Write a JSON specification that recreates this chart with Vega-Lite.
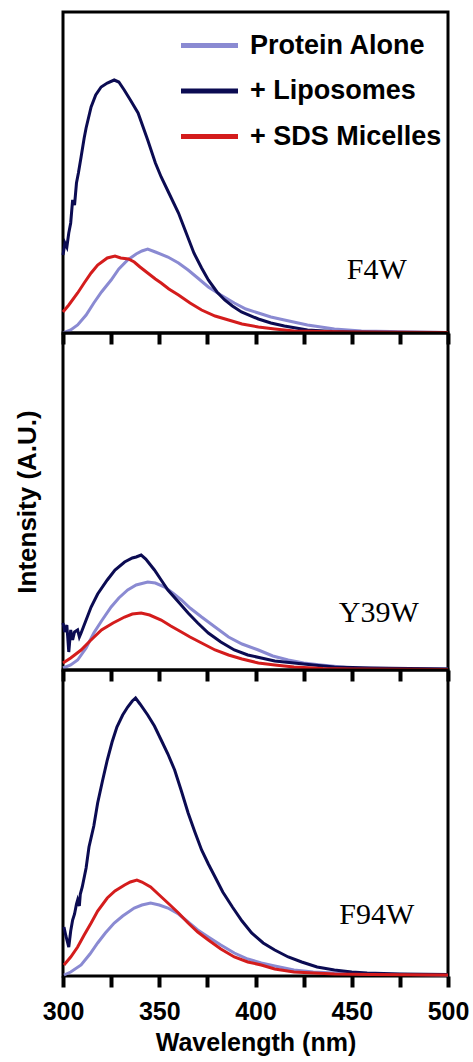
{
 "$schema": "https://vega.github.io/schema/vega-lite/v6.json",
 "padding": {"left": 12, "top": 10, "right": 5, "bottom": 0},
 "background": "white",
 "bounds": "flush",
 "spacing": 0,
 "config": {
  "view": {"stroke": "black", "strokeWidth": 3},
  "font": "Liberation Sans",
  "axis": {"grid": false}
 },
 "resolve": {"scale": {"x": "independent", "y": "independent"}, "axis": {"x": "independent", "y": "independent"}, "legend": {"color": "independent"}},
 "datasets": {
  "spectra": [
   {"panel":"F4W","sample":"Protein Alone","nm":300,"I":0},{"panel":"F4W","sample":"Protein Alone","nm":304,"I":3},{"panel":"F4W","sample":"Protein Alone","nm":307.6,"I":8},{"panel":"F4W","sample":"Protein Alone","nm":312,"I":18},{"panel":"F4W","sample":"Protein Alone","nm":316,"I":30},{"panel":"F4W","sample":"Protein Alone","nm":320,"I":41},{"panel":"F4W","sample":"Protein Alone","nm":325,"I":53},{"panel":"F4W","sample":"Protein Alone","nm":329,"I":64},{"panel":"F4W","sample":"Protein Alone","nm":333.6,"I":73},{"panel":"F4W","sample":"Protein Alone","nm":338,"I":79},{"panel":"F4W","sample":"Protein Alone","nm":341,"I":82},{"panel":"F4W","sample":"Protein Alone","nm":344,"I":84},{"panel":"F4W","sample":"Protein Alone","nm":348,"I":81},{"panel":"F4W","sample":"Protein Alone","nm":354.5,"I":76},{"panel":"F4W","sample":"Protein Alone","nm":360,"I":70},{"panel":"F4W","sample":"Protein Alone","nm":365,"I":63},{"panel":"F4W","sample":"Protein Alone","nm":370,"I":55},{"panel":"F4W","sample":"Protein Alone","nm":375.5,"I":46},{"panel":"F4W","sample":"Protein Alone","nm":382,"I":38},{"panel":"F4W","sample":"Protein Alone","nm":389,"I":30},{"panel":"F4W","sample":"Protein Alone","nm":395,"I":24},{"panel":"F4W","sample":"Protein Alone","nm":401.5,"I":20},{"panel":"F4W","sample":"Protein Alone","nm":408,"I":16},{"panel":"F4W","sample":"Protein Alone","nm":415,"I":13},{"panel":"F4W","sample":"Protein Alone","nm":427,"I":8},{"panel":"F4W","sample":"Protein Alone","nm":441,"I":4},{"panel":"F4W","sample":"Protein Alone","nm":455,"I":2},{"panel":"F4W","sample":"Protein Alone","nm":470,"I":1.5},{"panel":"F4W","sample":"Protein Alone","nm":500,"I":0.5},
   {"panel":"F4W","sample":"+ Liposomes","nm":300,"I":78},{"panel":"F4W","sample":"+ Liposomes","nm":301,"I":90},{"panel":"F4W","sample":"+ Liposomes","nm":302,"I":86},{"panel":"F4W","sample":"+ Liposomes","nm":303,"I":100},{"panel":"F4W","sample":"+ Liposomes","nm":304,"I":110},{"panel":"F4W","sample":"+ Liposomes","nm":305,"I":133},{"panel":"F4W","sample":"+ Liposomes","nm":306,"I":128},{"panel":"F4W","sample":"+ Liposomes","nm":307,"I":150},{"panel":"F4W","sample":"+ Liposomes","nm":308,"I":160},{"panel":"F4W","sample":"+ Liposomes","nm":309.4,"I":176},{"panel":"F4W","sample":"+ Liposomes","nm":311,"I":195},{"panel":"F4W","sample":"+ Liposomes","nm":312,"I":205},{"panel":"F4W","sample":"+ Liposomes","nm":314.6,"I":226},{"panel":"F4W","sample":"+ Liposomes","nm":317,"I":238},{"panel":"F4W","sample":"+ Liposomes","nm":319.8,"I":246},{"panel":"F4W","sample":"+ Liposomes","nm":323,"I":250},{"panel":"F4W","sample":"+ Liposomes","nm":326.6,"I":253},{"panel":"F4W","sample":"+ Liposomes","nm":329,"I":251},{"panel":"F4W","sample":"+ Liposomes","nm":331.8,"I":243},{"panel":"F4W","sample":"+ Liposomes","nm":335,"I":233},{"panel":"F4W","sample":"+ Liposomes","nm":339,"I":220},{"panel":"F4W","sample":"+ Liposomes","nm":344,"I":193},{"panel":"F4W","sample":"+ Liposomes","nm":348,"I":170},{"panel":"F4W","sample":"+ Liposomes","nm":351,"I":156},{"panel":"F4W","sample":"+ Liposomes","nm":355,"I":140},{"panel":"F4W","sample":"+ Liposomes","nm":360,"I":120},{"panel":"F4W","sample":"+ Liposomes","nm":364,"I":100},{"panel":"F4W","sample":"+ Liposomes","nm":368,"I":80},{"panel":"F4W","sample":"+ Liposomes","nm":372,"I":65},{"panel":"F4W","sample":"+ Liposomes","nm":375.5,"I":53},{"panel":"F4W","sample":"+ Liposomes","nm":380,"I":41},{"panel":"F4W","sample":"+ Liposomes","nm":384,"I":33},{"panel":"F4W","sample":"+ Liposomes","nm":388,"I":27},{"panel":"F4W","sample":"+ Liposomes","nm":392.7,"I":21},{"panel":"F4W","sample":"+ Liposomes","nm":401.5,"I":14},{"panel":"F4W","sample":"+ Liposomes","nm":408,"I":10},{"panel":"F4W","sample":"+ Liposomes","nm":415,"I":7},{"panel":"F4W","sample":"+ Liposomes","nm":427,"I":3},{"panel":"F4W","sample":"+ Liposomes","nm":440,"I":1.5},{"panel":"F4W","sample":"+ Liposomes","nm":450,"I":1},{"panel":"F4W","sample":"+ Liposomes","nm":475,"I":0.5},{"panel":"F4W","sample":"+ Liposomes","nm":500,"I":0.5},
   {"panel":"F4W","sample":"+ SDS Micelles","nm":300,"I":21},{"panel":"F4W","sample":"+ SDS Micelles","nm":303,"I":28},{"panel":"F4W","sample":"+ SDS Micelles","nm":307.6,"I":40},{"panel":"F4W","sample":"+ SDS Micelles","nm":311,"I":50},{"panel":"F4W","sample":"+ SDS Micelles","nm":314.6,"I":60},{"panel":"F4W","sample":"+ SDS Micelles","nm":318,"I":68},{"panel":"F4W","sample":"+ SDS Micelles","nm":323,"I":75},{"panel":"F4W","sample":"+ SDS Micelles","nm":327,"I":77},{"panel":"F4W","sample":"+ SDS Micelles","nm":330,"I":75},{"panel":"F4W","sample":"+ SDS Micelles","nm":334,"I":74},{"panel":"F4W","sample":"+ SDS Micelles","nm":337,"I":71},{"panel":"F4W","sample":"+ SDS Micelles","nm":340,"I":66},{"panel":"F4W","sample":"+ SDS Micelles","nm":344,"I":60},{"panel":"F4W","sample":"+ SDS Micelles","nm":348,"I":54},{"panel":"F4W","sample":"+ SDS Micelles","nm":351,"I":50},{"panel":"F4W","sample":"+ SDS Micelles","nm":355,"I":44},{"panel":"F4W","sample":"+ SDS Micelles","nm":360,"I":38},{"panel":"F4W","sample":"+ SDS Micelles","nm":366,"I":30},{"panel":"F4W","sample":"+ SDS Micelles","nm":372,"I":23},{"panel":"F4W","sample":"+ SDS Micelles","nm":379,"I":17},{"panel":"F4W","sample":"+ SDS Micelles","nm":386,"I":13},{"panel":"F4W","sample":"+ SDS Micelles","nm":393,"I":9},{"panel":"F4W","sample":"+ SDS Micelles","nm":401.5,"I":6},{"panel":"F4W","sample":"+ SDS Micelles","nm":410,"I":4},{"panel":"F4W","sample":"+ SDS Micelles","nm":420,"I":2},{"panel":"F4W","sample":"+ SDS Micelles","nm":435,"I":1.5},{"panel":"F4W","sample":"+ SDS Micelles","nm":450,"I":1},{"panel":"F4W","sample":"+ SDS Micelles","nm":500,"I":0.5},
   {"panel":"Y39W","sample":"Protein Alone","nm":300,"I":2},{"panel":"Y39W","sample":"Protein Alone","nm":304,"I":5},{"panel":"Y39W","sample":"Protein Alone","nm":307.6,"I":10},{"panel":"Y39W","sample":"Protein Alone","nm":312,"I":22},{"panel":"Y39W","sample":"Protein Alone","nm":316,"I":37},{"panel":"Y39W","sample":"Protein Alone","nm":320,"I":49},{"panel":"Y39W","sample":"Protein Alone","nm":325,"I":63},{"panel":"Y39W","sample":"Protein Alone","nm":329,"I":72},{"panel":"Y39W","sample":"Protein Alone","nm":333.6,"I":80},{"panel":"Y39W","sample":"Protein Alone","nm":338,"I":85},{"panel":"Y39W","sample":"Protein Alone","nm":344,"I":88},{"panel":"Y39W","sample":"Protein Alone","nm":348,"I":87},{"panel":"Y39W","sample":"Protein Alone","nm":352.8,"I":83},{"panel":"Y39W","sample":"Protein Alone","nm":357,"I":77},{"panel":"Y39W","sample":"Protein Alone","nm":361.5,"I":70},{"panel":"Y39W","sample":"Protein Alone","nm":366,"I":62},{"panel":"Y39W","sample":"Protein Alone","nm":372,"I":53},{"panel":"Y39W","sample":"Protein Alone","nm":379,"I":43},{"panel":"Y39W","sample":"Protein Alone","nm":386,"I":33},{"panel":"Y39W","sample":"Protein Alone","nm":393,"I":26},{"panel":"Y39W","sample":"Protein Alone","nm":401.5,"I":20},{"panel":"Y39W","sample":"Protein Alone","nm":409,"I":14},{"panel":"Y39W","sample":"Protein Alone","nm":417,"I":10},{"panel":"Y39W","sample":"Protein Alone","nm":425,"I":7},{"panel":"Y39W","sample":"Protein Alone","nm":434,"I":5},{"panel":"Y39W","sample":"Protein Alone","nm":450,"I":2},{"panel":"Y39W","sample":"Protein Alone","nm":470,"I":1.5},{"panel":"Y39W","sample":"Protein Alone","nm":500,"I":1},
   {"panel":"Y39W","sample":"+ Liposomes","nm":300,"I":47},{"panel":"Y39W","sample":"+ Liposomes","nm":301,"I":38},{"panel":"Y39W","sample":"+ Liposomes","nm":302,"I":45},{"panel":"Y39W","sample":"+ Liposomes","nm":303,"I":18},{"panel":"Y39W","sample":"+ Liposomes","nm":304,"I":40},{"panel":"Y39W","sample":"+ Liposomes","nm":305,"I":30},{"panel":"Y39W","sample":"+ Liposomes","nm":306,"I":38},{"panel":"Y39W","sample":"+ Liposomes","nm":307.6,"I":40},{"panel":"Y39W","sample":"+ Liposomes","nm":308.5,"I":33},{"panel":"Y39W","sample":"+ Liposomes","nm":309.4,"I":37},{"panel":"Y39W","sample":"+ Liposomes","nm":312,"I":50},{"panel":"Y39W","sample":"+ Liposomes","nm":314.6,"I":63},{"panel":"Y39W","sample":"+ Liposomes","nm":318,"I":76},{"panel":"Y39W","sample":"+ Liposomes","nm":323,"I":90},{"panel":"Y39W","sample":"+ Liposomes","nm":327,"I":100},{"panel":"Y39W","sample":"+ Liposomes","nm":332,"I":108},{"panel":"Y39W","sample":"+ Liposomes","nm":336,"I":112},{"panel":"Y39W","sample":"+ Liposomes","nm":338,"I":113},{"panel":"Y39W","sample":"+ Liposomes","nm":340.6,"I":115},{"panel":"Y39W","sample":"+ Liposomes","nm":343,"I":111},{"panel":"Y39W","sample":"+ Liposomes","nm":347.5,"I":100},{"panel":"Y39W","sample":"+ Liposomes","nm":351,"I":90},{"panel":"Y39W","sample":"+ Liposomes","nm":354.5,"I":80},{"panel":"Y39W","sample":"+ Liposomes","nm":360,"I":68},{"panel":"Y39W","sample":"+ Liposomes","nm":365,"I":57},{"panel":"Y39W","sample":"+ Liposomes","nm":370,"I":47},{"panel":"Y39W","sample":"+ Liposomes","nm":375.5,"I":37},{"panel":"Y39W","sample":"+ Liposomes","nm":382,"I":28},{"panel":"Y39W","sample":"+ Liposomes","nm":389,"I":20},{"panel":"Y39W","sample":"+ Liposomes","nm":396,"I":15},{"panel":"Y39W","sample":"+ Liposomes","nm":403,"I":12},{"panel":"Y39W","sample":"+ Liposomes","nm":410,"I":9},{"panel":"Y39W","sample":"+ Liposomes","nm":420,"I":7},{"panel":"Y39W","sample":"+ Liposomes","nm":430,"I":5},{"panel":"Y39W","sample":"+ Liposomes","nm":441,"I":3},{"panel":"Y39W","sample":"+ Liposomes","nm":460,"I":2},{"panel":"Y39W","sample":"+ Liposomes","nm":500,"I":1},
   {"panel":"Y39W","sample":"+ SDS Micelles","nm":300,"I":7},{"panel":"Y39W","sample":"+ SDS Micelles","nm":304,"I":12},{"panel":"Y39W","sample":"+ SDS Micelles","nm":309.4,"I":20},{"panel":"Y39W","sample":"+ SDS Micelles","nm":314,"I":29},{"panel":"Y39W","sample":"+ SDS Micelles","nm":320,"I":40},{"panel":"Y39W","sample":"+ SDS Micelles","nm":326,"I":47},{"panel":"Y39W","sample":"+ SDS Micelles","nm":332,"I":53},{"panel":"Y39W","sample":"+ SDS Micelles","nm":336,"I":56},{"panel":"Y39W","sample":"+ SDS Micelles","nm":340.6,"I":57},{"panel":"Y39W","sample":"+ SDS Micelles","nm":345,"I":55},{"panel":"Y39W","sample":"+ SDS Micelles","nm":351,"I":50},{"panel":"Y39W","sample":"+ SDS Micelles","nm":356,"I":44},{"panel":"Y39W","sample":"+ SDS Micelles","nm":361.5,"I":38},{"panel":"Y39W","sample":"+ SDS Micelles","nm":366,"I":33},{"panel":"Y39W","sample":"+ SDS Micelles","nm":372,"I":27},{"panel":"Y39W","sample":"+ SDS Micelles","nm":379,"I":20},{"panel":"Y39W","sample":"+ SDS Micelles","nm":386,"I":15},{"panel":"Y39W","sample":"+ SDS Micelles","nm":393,"I":11},{"panel":"Y39W","sample":"+ SDS Micelles","nm":401.5,"I":7},{"panel":"Y39W","sample":"+ SDS Micelles","nm":410,"I":5},{"panel":"Y39W","sample":"+ SDS Micelles","nm":420,"I":3},{"panel":"Y39W","sample":"+ SDS Micelles","nm":435,"I":1.5},{"panel":"Y39W","sample":"+ SDS Micelles","nm":450,"I":1},{"panel":"Y39W","sample":"+ SDS Micelles","nm":500,"I":0.5},
   {"panel":"F94W","sample":"Protein Alone","nm":300.5,"I":1},{"panel":"F94W","sample":"Protein Alone","nm":304,"I":4},{"panel":"F94W","sample":"Protein Alone","nm":309.4,"I":11},{"panel":"F94W","sample":"Protein Alone","nm":314,"I":22},{"panel":"F94W","sample":"Protein Alone","nm":318,"I":33},{"panel":"F94W","sample":"Protein Alone","nm":322,"I":43},{"panel":"F94W","sample":"Protein Alone","nm":326.6,"I":53},{"panel":"F94W","sample":"Protein Alone","nm":331,"I":60},{"panel":"F94W","sample":"Protein Alone","nm":337,"I":68},{"panel":"F94W","sample":"Protein Alone","nm":341,"I":71},{"panel":"F94W","sample":"Protein Alone","nm":345.5,"I":73},{"panel":"F94W","sample":"Protein Alone","nm":350,"I":71},{"panel":"F94W","sample":"Protein Alone","nm":354.5,"I":68},{"panel":"F94W","sample":"Protein Alone","nm":360,"I":62},{"panel":"F94W","sample":"Protein Alone","nm":365,"I":54},{"panel":"F94W","sample":"Protein Alone","nm":370,"I":46},{"panel":"F94W","sample":"Protein Alone","nm":375.5,"I":39},{"panel":"F94W","sample":"Protein Alone","nm":382,"I":31},{"panel":"F94W","sample":"Protein Alone","nm":389,"I":23},{"panel":"F94W","sample":"Protein Alone","nm":396,"I":17},{"panel":"F94W","sample":"Protein Alone","nm":403,"I":13},{"panel":"F94W","sample":"Protein Alone","nm":410,"I":10},{"panel":"F94W","sample":"Protein Alone","nm":420,"I":6},{"panel":"F94W","sample":"Protein Alone","nm":430,"I":4},{"panel":"F94W","sample":"Protein Alone","nm":441,"I":3},{"panel":"F94W","sample":"Protein Alone","nm":460,"I":2},{"panel":"F94W","sample":"Protein Alone","nm":500,"I":1},
   {"panel":"F94W","sample":"+ Liposomes","nm":300.5,"I":49},{"panel":"F94W","sample":"+ Liposomes","nm":301.5,"I":40},{"panel":"F94W","sample":"+ Liposomes","nm":303,"I":29},{"panel":"F94W","sample":"+ Liposomes","nm":304,"I":45},{"panel":"F94W","sample":"+ Liposomes","nm":305,"I":56},{"panel":"F94W","sample":"+ Liposomes","nm":306,"I":62},{"panel":"F94W","sample":"+ Liposomes","nm":307,"I":72},{"panel":"F94W","sample":"+ Liposomes","nm":307.6,"I":76},{"panel":"F94W","sample":"+ Liposomes","nm":308.5,"I":70},{"panel":"F94W","sample":"+ Liposomes","nm":309,"I":82},{"panel":"F94W","sample":"+ Liposomes","nm":310,"I":89},{"panel":"F94W","sample":"+ Liposomes","nm":312,"I":108},{"panel":"F94W","sample":"+ Liposomes","nm":313.5,"I":129},{"panel":"F94W","sample":"+ Liposomes","nm":316,"I":150},{"panel":"F94W","sample":"+ Liposomes","nm":318,"I":173},{"panel":"F94W","sample":"+ Liposomes","nm":320.5,"I":195},{"panel":"F94W","sample":"+ Liposomes","nm":323,"I":216},{"panel":"F94W","sample":"+ Liposomes","nm":325.5,"I":234},{"panel":"F94W","sample":"+ Liposomes","nm":328,"I":249},{"panel":"F94W","sample":"+ Liposomes","nm":331,"I":261},{"panel":"F94W","sample":"+ Liposomes","nm":333.6,"I":269},{"panel":"F94W","sample":"+ Liposomes","nm":336,"I":275},{"panel":"F94W","sample":"+ Liposomes","nm":337.7,"I":278},{"panel":"F94W","sample":"+ Liposomes","nm":340,"I":272},{"panel":"F94W","sample":"+ Liposomes","nm":344,"I":261},{"panel":"F94W","sample":"+ Liposomes","nm":347.5,"I":250},{"panel":"F94W","sample":"+ Liposomes","nm":351,"I":236},{"panel":"F94W","sample":"+ Liposomes","nm":354.5,"I":222},{"panel":"F94W","sample":"+ Liposomes","nm":358,"I":206},{"panel":"F94W","sample":"+ Liposomes","nm":361.5,"I":185},{"panel":"F94W","sample":"+ Liposomes","nm":365,"I":163},{"panel":"F94W","sample":"+ Liposomes","nm":368.5,"I":144},{"panel":"F94W","sample":"+ Liposomes","nm":372,"I":126},{"panel":"F94W","sample":"+ Liposomes","nm":375.5,"I":112},{"panel":"F94W","sample":"+ Liposomes","nm":379,"I":99},{"panel":"F94W","sample":"+ Liposomes","nm":383,"I":84},{"panel":"F94W","sample":"+ Liposomes","nm":388,"I":69},{"panel":"F94W","sample":"+ Liposomes","nm":393,"I":55},{"panel":"F94W","sample":"+ Liposomes","nm":398,"I":43},{"panel":"F94W","sample":"+ Liposomes","nm":404,"I":33},{"panel":"F94W","sample":"+ Liposomes","nm":410,"I":26},{"panel":"F94W","sample":"+ Liposomes","nm":417,"I":19},{"panel":"F94W","sample":"+ Liposomes","nm":424,"I":14},{"panel":"F94W","sample":"+ Liposomes","nm":432,"I":9},{"panel":"F94W","sample":"+ Liposomes","nm":441,"I":6},{"panel":"F94W","sample":"+ Liposomes","nm":450,"I":4},{"panel":"F94W","sample":"+ Liposomes","nm":458,"I":3},{"panel":"F94W","sample":"+ Liposomes","nm":475,"I":2},{"panel":"F94W","sample":"+ Liposomes","nm":500,"I":1.5},
   {"panel":"F94W","sample":"+ SDS Micelles","nm":300.5,"I":11},{"panel":"F94W","sample":"+ SDS Micelles","nm":304,"I":19},{"panel":"F94W","sample":"+ SDS Micelles","nm":307.6,"I":29},{"panel":"F94W","sample":"+ SDS Micelles","nm":311,"I":41},{"panel":"F94W","sample":"+ SDS Micelles","nm":314.6,"I":53},{"panel":"F94W","sample":"+ SDS Micelles","nm":318,"I":65},{"panel":"F94W","sample":"+ SDS Micelles","nm":323,"I":78},{"panel":"F94W","sample":"+ SDS Micelles","nm":327,"I":85},{"panel":"F94W","sample":"+ SDS Micelles","nm":332,"I":91},{"panel":"F94W","sample":"+ SDS Micelles","nm":335,"I":94},{"panel":"F94W","sample":"+ SDS Micelles","nm":338.4,"I":96},{"panel":"F94W","sample":"+ SDS Micelles","nm":341,"I":94},{"panel":"F94W","sample":"+ SDS Micelles","nm":345.5,"I":89},{"panel":"F94W","sample":"+ SDS Micelles","nm":350,"I":81},{"panel":"F94W","sample":"+ SDS Micelles","nm":354.5,"I":73},{"panel":"F94W","sample":"+ SDS Micelles","nm":360,"I":63},{"panel":"F94W","sample":"+ SDS Micelles","nm":365,"I":53},{"panel":"F94W","sample":"+ SDS Micelles","nm":370,"I":44},{"panel":"F94W","sample":"+ SDS Micelles","nm":375.5,"I":36},{"panel":"F94W","sample":"+ SDS Micelles","nm":382,"I":27},{"panel":"F94W","sample":"+ SDS Micelles","nm":389,"I":19},{"panel":"F94W","sample":"+ SDS Micelles","nm":396,"I":14},{"panel":"F94W","sample":"+ SDS Micelles","nm":403,"I":11},{"panel":"F94W","sample":"+ SDS Micelles","nm":410,"I":7},{"panel":"F94W","sample":"+ SDS Micelles","nm":420,"I":4},{"panel":"F94W","sample":"+ SDS Micelles","nm":441,"I":2},{"panel":"F94W","sample":"+ SDS Micelles","nm":460,"I":1.5},{"panel":"F94W","sample":"+ SDS Micelles","nm":500,"I":1}
  ]
 },
 "vconcat": [
  {
   "width": 385, "height": 321,
   "layer": [
    {
     "data": {"name": "spectra"},
     "transform": [{"filter": "datum.panel === 'F4W'"}],
     "mark": {"type": "line", "strokeWidth": 3},
     "encoding": {
      "x": {"field": "nm", "type": "quantitative", "scale": {"domain": [300, 500], "nice": false, "zero": false},
            "axis": {"title": null, "values": [300,325,350,375,400,425,450,475,500], "labels": false, "domain": false, "tickColor": "black", "tickWidth": 4, "tickSize": 11,
                     "encode": {"ticks": {"update": {"y": [{"test": "datum.value % 50 === 0", "value": -11}, {"value": -7}], "y2": [{"test": "datum.value % 50 === 0", "value": 11}, {"value": 7}]}}}}},
      "y": {"field": "I", "type": "quantitative", "scale": {"domain": [0, 321], "nice": false}, "axis": null},
      "color": {"field": "sample", "type": "nominal",
                "scale": {"domain": ["Protein Alone", "+ Liposomes", "+ SDS Micelles"], "range": ["#8a8ad2", "#0b0b52", "#d41c1c"]},
                "legend": {"orient": "none", "legendX": 133, "legendY": 20, "title": null, "symbolType": "M-3,0H3", "symbolSize": 361, "symbolStrokeWidth": 5,
                           "labelFontSize": 27, "labelFontWeight": "bold", "labelColor": "black", "labelFont": "Liberation Sans", "rowPadding": 17.5, "labelOffset": 27, "padding": 0, "labelLimit": 400}}
     }
    },
    {
     "data": {"values": [{"label": "F4W"}]},
     "mark": {"type": "text", "font": "Liberation Serif", "fontSize": 30, "color": "black", "align": "center", "baseline": "middle"},
     "encoding": {"x": {"datum": 463, "type": "quantitative"}, "y": {"datum": 63, "type": "quantitative"}, "text": {"field": "label"}}
    }
   ]
  },
  {
   "width": 385, "height": 337,
   "layer": [
    {
     "data": {"name": "spectra"},
     "transform": [{"filter": "datum.panel === 'Y39W'"}],
     "mark": {"type": "line", "strokeWidth": 3},
     "encoding": {
      "x": {"field": "nm", "type": "quantitative", "scale": {"domain": [300, 500], "nice": false, "zero": false},
            "axis": {"title": null, "values": [300,325,350,375,400,425,450,475,500], "labels": false, "domain": false, "tickColor": "black", "tickWidth": 4, "tickSize": 11,
                     "encode": {"ticks": {"update": {"y": [{"test": "datum.value % 50 === 0", "value": -11}, {"value": -7}], "y2": [{"test": "datum.value % 50 === 0", "value": 11}, {"value": 7}]}}}}},
      "y": {"field": "I", "type": "quantitative", "scale": {"domain": [0, 337], "nice": false},
            "axis": {"title": "Intensity (A.U.)", "labels": false, "ticks": false, "domain": false, "titleFontSize": 26, "titleFontWeight": "bold", "titleColor": "black", "titlePadding": 23, "titleFont": "Liberation Sans"}},
      "color": {"field": "sample", "type": "nominal",
                "scale": {"domain": ["Protein Alone", "+ Liposomes", "+ SDS Micelles"], "range": ["#8a8ad2", "#0b0b52", "#d41c1c"]},
                "legend": null}
     }
    },
    {
     "data": {"values": [{"label": "Y39W"}]},
     "mark": {"type": "text", "font": "Liberation Serif", "fontSize": 30, "color": "black", "align": "center", "baseline": "middle"},
     "encoding": {"x": {"datum": 464, "type": "quantitative"}, "y": {"datum": 57, "type": "quantitative"}, "text": {"field": "label"}}
    }
   ]
  },
  {
   "width": 385, "height": 306,
   "layer": [
    {
     "data": {"name": "spectra"},
     "transform": [{"filter": "datum.panel === 'F94W'"}],
     "mark": {"type": "line", "strokeWidth": 3},
     "encoding": {
      "x": {"field": "nm", "type": "quantitative", "scale": {"domain": [300, 500], "nice": false, "zero": false},
            "axis": {"title": "Wavelength (nm)", "values": [300,325,350,375,400,425,450,475,500], "labels": true, "domain": false, "tickColor": "black", "tickWidth": 4, "tickSize": 11,
                     "labelExpr": "datum.value % 50 === 0 ? datum.label : ''",
                     "labelFontSize": 25, "labelFontWeight": "bold", "labelColor": "black", "labelPadding": 12, "labelFlush": false, "labelOverlap": false, "labelFont": "Liberation Sans",
                     "titleFontSize": 25, "titleFontWeight": "bold", "titleColor": "black", "titlePadding": 6, "titleFont": "Liberation Sans",
                     "encode": {"ticks": {"update": {"y": [{"test": "datum.value % 50 === 0", "value": -11}, {"value": -7}], "y2": [{"test": "datum.value % 50 === 0", "value": 11}, {"value": 7}]}}}}},
      "y": {"field": "I", "type": "quantitative", "scale": {"domain": [0, 306], "nice": false}, "axis": null},
      "color": {"field": "sample", "type": "nominal",
                "scale": {"domain": ["Protein Alone", "+ Liposomes", "+ SDS Micelles"], "range": ["#8a8ad2", "#0b0b52", "#d41c1c"]},
                "legend": null}
     }
    },
    {
     "data": {"values": [{"label": "F94W"}]},
     "mark": {"type": "text", "font": "Liberation Serif", "fontSize": 30, "color": "black", "align": "center", "baseline": "middle"},
     "encoding": {"x": {"datum": 463, "type": "quantitative"}, "y": {"datum": 61, "type": "quantitative"}, "text": {"field": "label"}}
    }
   ]
  }
 ]
}
